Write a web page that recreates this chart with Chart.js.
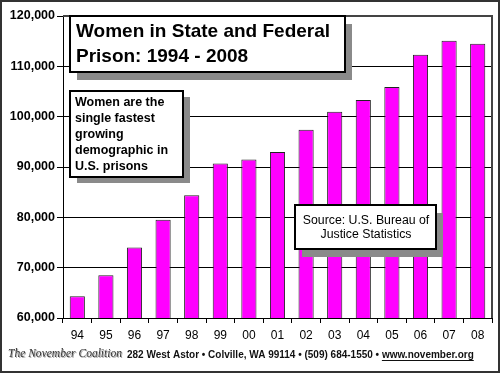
<!DOCTYPE html>
<html>
<head>
<meta charset="utf-8">
<script src="https://cdn.jsdelivr.net/npm/chart.js@4"></script>
<style>
  body { margin: 0; background: #fff; }
  canvas { display: block; }
</style>
</head>
<body>
<canvas id="prisonchart" width="500" height="373"></canvas>
<script>
// chart data
var years = ['94','95','96','97','98','99','00','01','02','03','04','05','06','07','08']
var women = [64300, 68500, 74000, 79500, 84400, 90700, 91500, 93000, 97400, 101000, 103300, 105900, 112300, 115100, 114500]
var yticks = [60000, 70000, 80000, 90000, 100000, 110000, 120000]

var titlelines = ['Women in State and Federal', 'Prison: 1994 - 2008']
var notelines = ['Women are the', 'single fastest', 'growing', 'demographic in', 'U.S. prisons']
var sourcelines = ['Source: U.S. Bureau of', 'Justice Statistics']
var footertext = '282 West Astor \u2022 Colville, WA 99114 \u2022 (509) 684-1550 \u2022 '
var footerurl = 'www.november.org'
var logotext = 'The November Coalition'

// white box with a grey drop shadow
function shadowBox(ctx, x, y, w, h, dx, dy) {
  ctx.fillStyle = '#8a8a8a'
  ctx.fillRect(x + dx, y + dy, w, h)
  ctx.fillStyle = '#fff'
  ctx.fillRect(x, y, w, h)
  ctx.strokeStyle = '#000'
  ctx.lineWidth = 2
  ctx.strokeRect(x, y, w, h)
}

var decorPlugin = {
  id: 'decor',
  beforeDraw: function(chart) {
    var ctx = chart.ctx
    ctx.save()
    ctx.fillStyle = '#fff'
    ctx.fillRect(0, 0, chart.width, chart.height)
    ctx.restore()
  },
  afterDraw: function(chart) {
    var ctx = chart.ctx
    var a = chart.chartArea
    ctx.save()

    // plot frame on top and right
    ctx.strokeStyle = '#444'
    ctx.lineWidth = 2
    ctx.beginPath()
    ctx.moveTo(a.left, a.top)
    ctx.lineTo(a.right, a.top)
    ctx.lineTo(a.right, a.bottom)
    ctx.stroke()

    // title box
    shadowBox(ctx, 70, 16, 275, 56, 7, 8)
    ctx.fillStyle = '#000'
    ctx.font = 'bold 19px "Liberation Sans", Arial, sans-serif'
    ctx.textAlign = 'left'
    ctx.textBaseline = 'alphabetic'
    ctx.fillText(titlelines[0], 76, 37)
    ctx.fillText(titlelines[1], 76, 62)

    // note box
    shadowBox(ctx, 70, 91, 113, 86, 7, 6)
    ctx.fillStyle = '#000'
    ctx.font = 'bold 12.5px "Liberation Sans", Arial, sans-serif'
    for (var i = 0; i < notelines.length; i++) {
      ctx.fillText(notelines[i], 75, 106 + i * 16)
    }

    // source box
    shadowBox(ctx, 295, 205, 141, 44, 7, 8)
    ctx.fillStyle = '#000'
    ctx.font = '12.3px "Liberation Sans", Arial, sans-serif'
    ctx.textAlign = 'center'
    ctx.fillText(sourcelines[0], 366, 224)
    ctx.fillText(sourcelines[1], 366, 238)

    // footer logo
    ctx.textAlign = 'left'
    ctx.font = 'italic 13px "Liberation Serif", "DejaVu Serif", serif'
    ctx.fillStyle = '#aaa'
    ctx.fillText(logotext, 9, 358, 114)
    ctx.fillStyle = '#333'
    ctx.fillText(logotext, 8, 357, 114)

    // footer address
    ctx.font = 'bold 10px "Liberation Sans", Arial, sans-serif'
    ctx.fillStyle = '#111'
    var w1 = ctx.measureText(footertext).width
    var w2 = ctx.measureText(footerurl).width
    var scale = Math.min(1, 348 / (w1 + w2))
    ctx.fillText(footertext, 127, 358, w1 * scale)
    var ux = 127 + w1 * scale
    ctx.fillText(footerurl, ux, 358, w2 * scale)
    ctx.fillStyle = '#111'
    ctx.fillRect(ux, 360, w2 * scale, 1)

    // outer border
    ctx.strokeStyle = '#333'
    ctx.lineWidth = 2
    ctx.strokeRect(1, 1, chart.width - 2, chart.height - 2)
    ctx.restore()
  }
}

var ctx = document.getElementById('prisonchart')
var prisonChart = new Chart(ctx, {
  type: 'bar',
  data: {
    labels: years,
    datasets: [{
      data: women,
      backgroundColor: '#ff00ff',
      borderColor: '#222',
      borderWidth: 1,
      barPercentage: 0.53,
      categoryPercentage: 1
    }]
  },
  options: {
    responsive: false,
    animation: false,
    devicePixelRatio: 1,
    layout: { padding: { left: 0, top: 16, right: 8, bottom: 30 } },
    plugins: {
      legend: { display: false },
      tooltip: { enabled: false },
      title: { display: false }
    },
    scales: {
      x: {
        offset: true,
        grid: { offset: true, drawOnChartArea: false, color: '#000', tickLength: 5 },
        border: { color: '#000', width: 1 },
        ticks: {
          color: '#000',
          padding: 5,
          maxRotation: 0,
          font: { family: '"Liberation Sans", Arial, sans-serif', size: 12 }
        },
        afterFit: function(scale) { scale.height = 25 }
      },
      y: {
        min: 60000,
        max: 120000,
        afterBuildTicks: function(scale) {
          scale.ticks = yticks.map(function(v) { return { value: v } })
        },
        grid: { color: '#000', lineWidth: 1, tickLength: 6 },
        border: { color: '#000', width: 1 },
        ticks: {
          color: '#000',
          padding: 2,
          font: { family: '"Liberation Sans", Arial, sans-serif', size: 12.5, weight: 'bold' },
          callback: function(v) { return v.toLocaleString('en-US') }
        },
        afterFit: function(scale) { scale.width = 63 }
      }
    }
  },
  plugins: [decorPlugin]
})
</script>
</body>
</html>
